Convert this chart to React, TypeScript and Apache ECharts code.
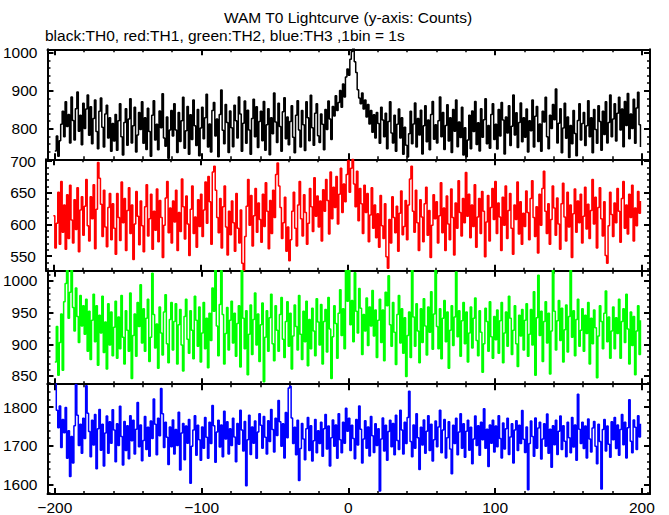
import React, { useEffect, useRef } from "react";
import * as echarts from "echarts";

const TITLE = "WAM T0 Lightcurve (y-axis: Counts)";
const SUBTITLE = "black:TH0, red:TH1, green:TH2, blue:TH3 ,1bin = 1s";

const BIN_START = -200;
const BIN_WIDTH = 1;

const X_MIN = -205;
const X_MAX = 205.5;
const X_MAJOR = [-200, -100, 0, 100, 200];
const X_MINOR_STEP = 20;

const TH0 = [
  742, 781, 728, 769, 812, 846, 779, 871, 806, 838, 763, 884, 822, 771, 853, 897, 794, 836, 758, 867,
  801, 852, 889, 783, 858, 761, 827, 876, 793, 748, 846, 881, 804, 752, 839, 862, 776, 829, 741, 814,
  768, 838, 744, 821, 866, 779, 731, 817, 853, 757, 826, 879, 763, 808, 857, 739, 784, 843, 798, 871,
  762, 829, 746, 854, 793, 728, 836, 874, 771, 812, 745, 847, 803, 892, 776, 754, 831, 723, 797, 848,
  781, 866, 797, 738, 843, 767, 821, 883, 749, 795, 859, 733, 837, 772, 876, 808, 756, 851, 729, 802,
  857, 774, 829, 891, 752, 813, 739, 848, 869, 781, 826, 727, 838, 902, 796, 761, 864, 817, 738, 847,
  803, 753, 862, 821, 776, 884, 839, 741, 815, 873, 762, 849, 797, 733, 827, 878, 779, 858, 751, 819,
  846, 769, 872, 744, 811, 853, 732, 829, 787, 894, 818, 764, 867, 806, 741, 845, 882, 774, 831, 758,
  819, 861, 778, 737, 836, 874, 797, 752, 848, 811, 743, 871, 829, 769, 888, 803, 757, 841, 866, 782,
  764, 839, 812, 745, 851, 798, 873, 826, 772, 859, 834, 887, 848, 869, 901, 857, 918, 884, 936, 957,
  941, 983, 1003, 1014, 976, 948, 903, 881, 866, 894, 852, 876, 831, 864, 813, 848, 791, 837, 776, 843,
  814, 762, 857, 823, 779, 841, 748, 819, 871, 789, 763, 836, 741, 812, 852, 776, 829, 733, 804, 757,
  726, 787, 846, 761, 813, 868, 752, 827, 784, 849, 734, 808, 861, 766, 823, 745, 838, 872, 773, 811,
  763, 821, 884, 779, 843, 746, 809, 863, 768, 829, 738, 851, 794, 876, 753, 818, 777, 857, 731, 803,
  727, 771, 836, 748, 847, 793, 872, 759, 816, 742, 853, 778, 824, 879, 761, 809, 749, 838, 866, 772,
  812, 747, 851, 781, 869, 823, 734, 831, 789, 861, 756, 807, 889, 784, 842, 751, 817, 868, 766, 829,
  778, 852, 739, 821, 795, 876, 752, 833, 859, 767, 813, 741, 846, 818, 883, 779, 748, 836, 801, 864,
  824, 905, 763, 815, 853, 737, 802, 867, 775, 831, 725, 809, 761, 848, 788, 729, 822, 866, 771, 814,
  843, 756, 808, 874, 779, 829, 737, 851, 798, 762, 861, 819, 744, 846, 785, 871, 763, 817, 889, 779,
  826, 866, 768, 841, 883, 797, 852, 753, 872, 809, 893, 774, 839, 801, 878, 762, 855, 896, 811, 752,
];

const TH1 = [
  614, 563, 602, 651, 569, 668, 588, 631, 561, 647, 578, 662, 607, 571, 639, 592, 658, 557, 623, 644,
  583, 629, 671, 598, 574, 644, 609, 663, 562, 624, 698, 673, 632, 581, 654, 596, 565, 627, 649, 576,
  633, 594, 553, 649, 611, 575, 667, 603, 641, 559, 622, 658, 586, 631, 545, 601, 652, 613, 568, 637,
  598, 557, 628, 663, 582, 609, 648, 561, 621, 591, 656, 573, 638, 611, 548, 599, 642, 668, 587, 626,
  571, 637, 604, 654, 559, 619, 589, 672, 628, 577, 645, 601, 551, 624, 661, 586, 612, 564, 639, 597,
  648, 581, 623, 667, 602, 676, 636, 569, 683, 692, 654, 611, 587, 641, 563, 628, 661, 596, 552, 621,
  584, 637, 603, 558, 649, 594, 571, 623, 539, 528, 581, 629, 671, 599, 646, 566, 614, 657, 588, 634,
  608, 572, 648, 597, 666, 621, 562, 638, 586, 654, 611, 679, 697, 661, 627, 578, 603, 643, 558, 596,
  543, 576, 621, 651, 594, 566, 631, 668, 609, 582, 647, 619, 569, 602, 657, 628, 589, 674, 613, 645,
  596, 637, 574, 655, 621, 671, 638, 585, 683, 609, 659, 627, 676, 601, 648, 689, 619, 664, 636, 679,
  701, 651, 689, 703, 664, 628, 684, 606, 657, 633, 586, 662, 619, 649, 573, 615, 658, 594, 631, 579,
  617, 564, 646, 598, 578, 633, 549, 531, 608, 571, 644, 611, 587, 629, 558, 618, 653, 584, 597, 638,
  576, 631, 672, 692, 621, 588, 654, 603, 559, 639, 612, 573, 633, 659, 583, 622, 548, 599, 647, 609,
  636, 571, 614, 666, 587, 626, 559, 645, 601, 576, 656, 611, 552, 634, 594, 669, 619, 582, 641, 603,
  682, 613, 648, 579, 631, 597, 663, 564, 612, 641, 586, 652, 621, 549, 604, 646, 574, 627, 657, 608,
  668, 586, 634, 612, 559, 643, 599, 661, 578, 622, 649, 594, 553, 631, 608, 667, 585, 636, 569, 618,
  597, 653, 619, 576, 641, 669, 611, 581, 628, 555, 648, 599, 657, 684, 621, 586, 633, 569, 608, 661,
  626, 583, 642, 601, 561, 633, 665, 612, 574, 651, 596, 631, 548, 617, 656, 588, 637, 603, 648, 571,
  613, 659, 593, 632, 578, 622, 671, 601, 643, 563, 627, 658, 609, 582, 636, 551, 539, 598, 651, 616,
  581, 634, 603, 657, 621, 572, 641, 668, 594, 631, 585, 648, 611, 662, 574, 626, 598, 652, 618, 637,
];

const TH2 = [
  872, 928, 851, 903, 948, 859, 967, 996, 1021, 941, 982, 1024, 958, 921, 989, 944, 903, 977, 929, 961,
  916, 971, 889, 952, 876, 938, 979, 904, 961, 867, 946, 918, 976, 887, 935, 861, 964, 899, 951, 882,
  927, 968, 878, 943, 893, 977, 911, 869, 953, 922, 889, 981, 846, 914, 948, 881, 966, 928, 994, 902,
  956, 889, 941, 971, 873, 911, 1012, 947, 894, 932, 862, 959, 918, 883, 951, 978, 901, 871, 939, 966,
  891, 936, 964, 869, 931, 955, 899, 858, 944, 971, 908, 886, 953, 922, 877, 976, 938, 897, 959, 872,
  918, 966, 893, 941, 863, 949, 906, 989, 952, 1019, 929, 882, 963, 1016, 947, 869, 917, 958, 891, 938,
  968, 902, 949, 881, 933, 961, 864, 1021, 941, 893, 953, 852, 916, 962, 884, 939, 981, 899, 948, 873,
  931, 965, 841, 911, 953, 889, 942, 979, 901, 874, 961, 922, 889, 947, 974, 908, 879, 936, 967, 897,
  949, 861, 913, 962, 928, 891, 977, 916, 876, 952, 904, 968, 866, 939, 893, 957, 921, 882, 972, 935,
  899, 963, 869, 936, 955, 888, 974, 924, 846, 912, 961, 933, 878, 949, 986, 914, 956, 893, 1017, 968,
  1021, 931, 969, 904, 1013, 952, 918, 988, 957, 884, 947, 921, 973, 898, 959, 929, 985, 913, 954, 879,
  938, 971, 903, 954, 874, 982, 961, 1008, 931, 897, 966, 919, 868, 947, 977, 902, 956, 886, 942, 849,
  914, 951, 879, 1017, 943, 897, 964, 921, 871, 956, 903, 972, 929, 883, 959, 919, 983, 892, 948, 1019,
  928, 893, 956, 877, 941, 969, 904, 951, 862, 922, 961, 898, 943, 1014, 912, 953, 881, 937, 966, 901,
  951, 872, 918, 959, 894, 941, 973, 906, 882, 953, 919, 856, 901, 957, 936, 889, 967, 912, 878, 944,
  907, 954, 886, 937, 966, 871, 918, 951, 897, 976, 941, 884, 922, 961, 901, 865, 946, 913, 955, 891,
  938, 964, 881, 916, 955, 899, 983, 851, 942, 1009, 914, 952, 873, 936, 967, 902, 949, 853, 921, 1018,
  952, 891, 937, 969, 906, 957, 872, 923, 962, 888, 944, 1017, 911, 953, 882, 939, 971, 897, 922, 956,
  889, 946, 917, 966, 869, 941, 901, 954, 926, 847, 913, 961, 936, 893, 949, 984, 904, 943, 878, 921,
  959, 893, 942, 917, 971, 878, 936, 956, 903, 979, 924, 869, 951, 898, 944, 852, 921, 961, 884, 938,
];

const TH3 = [
  1862, 1792, 1747, 1803, 1696, 1768, 1734, 1799, 1668, 1739, 1621, 1724, 1656, 1752, 1858, 1779, 1701, 1756, 1681, 1771,
  1719, 1855, 1784, 1737, 1672, 1766, 1702, 1781, 1641, 1744, 1794, 1689, 1756, 1648, 1733, 1777, 1681, 1762, 1707, 1793,
  1741, 1659, 1757, 1701, 1802, 1724, 1651, 1763, 1688, 1752, 1667, 1778, 1713, 1766, 1679, 1743, 1812, 1698, 1754, 1662,
  1714, 1776, 1691, 1748, 1673, 1764, 1719, 1821, 1756, 1677, 1771, 1726, 1848, 1783, 1696, 1761, 1722, 1652, 1749, 1698,
  1767, 1679, 1742, 1701, 1787, 1638, 1733, 1758, 1664, 1751, 1707, 1768, 1604, 1699, 1741, 1778, 1676, 1753, 1716, 1663,
  1749, 1694, 1773, 1722, 1668, 1761, 1706, 1804, 1752, 1658, 1736, 1766, 1697, 1754, 1672, 1789, 1718, 1762, 1679, 1744,
  1701, 1771, 1723, 1659, 1758, 1704, 1792, 1741, 1687, 1763, 1597, 1716, 1779, 1678, 1749, 1707, 1764, 1668, 1736, 1783,
  1753, 1694, 1776, 1722, 1679, 1765, 1711, 1794, 1742, 1684, 1771, 1727, 1817, 1762, 1699, 1757, 1669, 1786, 1721, 1849,
  1854, 1772, 1706, 1748, 1677, 1766, 1611, 1693, 1758, 1718, 1664, 1744, 1773, 1688, 1752, 1661, 1713, 1768, 1682, 1739,
  1706, 1761, 1673, 1744, 1781, 1692, 1751, 1648, 1721, 1767, 1699, 1754, 1668, 1783, 1716, 1682, 1761, 1707, 1797, 1738,
  1771, 1688, 1753, 1719, 1667, 1768, 1702, 1803, 1743, 1656, 1718, 1765, 1694, 1749, 1674, 1776, 1726, 1683, 1757, 1701,
  1744, 1584, 1718, 1772, 1687, 1753, 1663, 1737, 1766, 1698, 1758, 1677, 1779, 1714, 1691, 1792, 1741, 1679, 1761, 1706,
  1773, 1841, 1711, 1672, 1754, 1694, 1783, 1721, 1639, 1748, 1702, 1767, 1681, 1738, 1778, 1688, 1756, 1661, 1716, 1764,
  1698, 1749, 1792, 1682, 1741, 1768, 1669, 1721, 1762, 1692, 1628, 1753, 1706, 1771, 1677, 1736, 1783, 1694, 1757, 1671,
  1738, 1766, 1689, 1748, 1654, 1718, 1777, 1701, 1752, 1676, 1761, 1716, 1796, 1694, 1743, 1647, 1754, 1707, 1766, 1684,
  1751, 1698, 1778, 1719, 1669, 1759, 1692, 1744, 1771, 1678, 1723, 1757, 1656, 1741, 1765, 1688, 1753, 1706, 1791, 1717,
  1683, 1749, 1587, 1706, 1764, 1724, 1673, 1772, 1694, 1746, 1761, 1666, 1718, 1757, 1699, 1782, 1681, 1743, 1645, 1752,
  1703, 1766, 1678, 1738, 1777, 1691, 1752, 1712, 1672, 1761, 1721, 1682, 1773, 1697, 1754, 1663, 1833, 1743, 1706, 1761,
  1693, 1751, 1669, 1769, 1718, 1684, 1746, 1763, 1699, 1654, 1756, 1711, 1589, 1742, 1768, 1687, 1751, 1704, 1671, 1762,
  1716, 1773, 1693, 1754, 1676, 1742, 1781, 1703, 1761, 1669, 1747, 1819, 1712, 1682, 1767, 1748, 1691, 1778, 1723, 1757,
];

const SERIES_VALUES = [TH0, TH1, TH2, TH3];
const SERIES_NAMES = ["TH0", "TH1", "TH2", "TH3"];
const SERIES_COLORS = ["#000000", "#ff0000", "#00ff00", "#0000ff"];

const Y_MIN = [720, 527, 837, 1576];
const Y_MAX = [1009, 703, 1016, 1859];
const Y_MAJOR = [
  [800, 900, 1000],
  [550, 600, 650, 700],
  [850, 900, 950, 1000],
  [1600, 1700, 1800],
];
const Y_MINOR_STEP = [20, 10, 10, 20];

// layout
const GRID_LEFT = 46;
const GRID_RIGHT = 19;
const GRID_TOPS = [49.3, 159.3, 270.8, 384.2];
const GRID_BOTTOMS = [159.3, 270.8, 384.2, 495];

const FONT = '"Liberation Sans", Arial, Helvetica, sans-serif';
const FONT_SIZE = 15.5;

function minorValues(min: number, max: number, step: number, majors: number[]) {
  const out: number[] = [];
  const start = Math.ceil(min / step) * step;
  for (let v = start; v <= max; v += step) {
    if (!majors.includes(v)) out.push(v);
  }
  return out;
}

function fmtNum(v: number) {
  return String(v).replace("-", "\u2212");
}

export default function App() {
  const ref = useRef<HTMLDivElement>(null);

  useEffect(() => {
    document.body.style.margin = "0";
    if (!ref.current) return;
    const chart = echarts.init(ref.current, undefined, { renderer: "svg" });

    const grids: any[] = [];
    const xAxes: any[] = [];
    const yAxes: any[] = [];
    const series: any[] = [];

    const xMinor = minorValues(X_MIN, X_MAX, X_MINOR_STEP, X_MAJOR);

    for (let g = 0; g < 4; g++) {
      grids.push({
        left: GRID_LEFT,
        right: GRID_RIGHT,
        top: GRID_TOPS[g],
        height: GRID_BOTTOMS[g] - GRID_TOPS[g],
        containLabel: false,
      });

      const baseX = {
        type: "value",
        gridIndex: g,
        min: X_MIN,
        max: X_MAX,
        splitLine: { show: false },
      };
      for (const pos of ["bottom", "top"]) {
        xAxes.push({
          ...baseX,
          position: pos,
          axisLine: { show: true, onZero: false, lineStyle: { color: "#000", width: 2 } },
          axisTick: {
            show: true,
            inside: true,
            length: 6,
            customValues: X_MAJOR,
            lineStyle: { color: "#000", width: 2 },
          },
          axisLabel: {
            show: g === 3 && pos === "bottom",
            customValues: X_MAJOR,
            formatter: (v: number) => fmtNum(v),
            color: "#000",
            fontFamily: FONT,
            fontSize: FONT_SIZE,
            margin: 5,
          },
        });
        xAxes.push({
          ...baseX,
          position: pos,
          axisLine: { show: false, onZero: false },
          axisTick: {
            show: true,
            inside: true,
            length: 3,
            customValues: xMinor,
            lineStyle: { color: "#000", width: 1.5 },
          },
          axisLabel: { show: false },
        });
      }

      const majors = Y_MAJOR[g];
      const yMinor = minorValues(Y_MIN[g], Y_MAX[g], Y_MINOR_STEP[g], majors);
      const baseY = {
        type: "value",
        gridIndex: g,
        min: Y_MIN[g],
        max: Y_MAX[g],
        splitLine: { show: false },
      };
      for (const pos of ["left", "right"]) {
        yAxes.push({
          ...baseY,
          position: pos,
          axisLine: { show: true, onZero: false, lineStyle: { color: "#000", width: 2 } },
          axisTick: {
            show: true,
            inside: true,
            length: 6,
            customValues: majors,
            lineStyle: { color: "#000", width: 2 },
          },
          axisLabel: {
            show: pos === "left",
            customValues: majors,
            formatter: (v: number) => fmtNum(v),
            color: "#000",
            fontFamily: FONT,
            fontSize: FONT_SIZE,
            margin: 10,
          },
        });
        yAxes.push({
          ...baseY,
          position: pos,
          axisLine: { show: false, onZero: false },
          axisTick: {
            show: true,
            inside: true,
            length: 3,
            customValues: yMinor,
            lineStyle: { color: "#000", width: 1.5 },
          },
          axisLabel: { show: false },
        });
      }

      series.push({
        name: SERIES_NAMES[g],
        type: "line",
        xAxisIndex: g * 4,
        yAxisIndex: g * 4,
        data: SERIES_VALUES[g].map((v, i) => [BIN_START + i * BIN_WIDTH, v]),
        step: "end",
        showSymbol: false,
        symbol: "none",
        clip: true,
        silent: true,
        lineStyle: { color: SERIES_COLORS[g], width: 1.5 },
        itemStyle: { color: SERIES_COLORS[g] },
        z: 1,
      });
    }

    chart.setOption({
      animation: false,
      backgroundColor: "#ffffff",
      grid: grids,
      xAxis: xAxes,
      yAxis: yAxes,
      series,
      graphic: [
        {
          type: "text",
          x: 348,
          y: 17,
          style: {
            text: TITLE,
            fill: "#000",
            fontFamily: FONT,
            fontSize: FONT_SIZE,
            align: "center",
            verticalAlign: "middle",
          },
        },
        {
          type: "text",
          x: 45,
          y: 35,
          style: {
            text: SUBTITLE,
            fill: "#000",
            fontFamily: FONT,
            fontSize: FONT_SIZE,
            align: "left",
            verticalAlign: "middle",
          },
        },
      ],
    });

    return () => {
      chart.dispose();
    };
  }, []);

  return <div ref={ref} style={{ width: 669, height: 515 }} />;
}
